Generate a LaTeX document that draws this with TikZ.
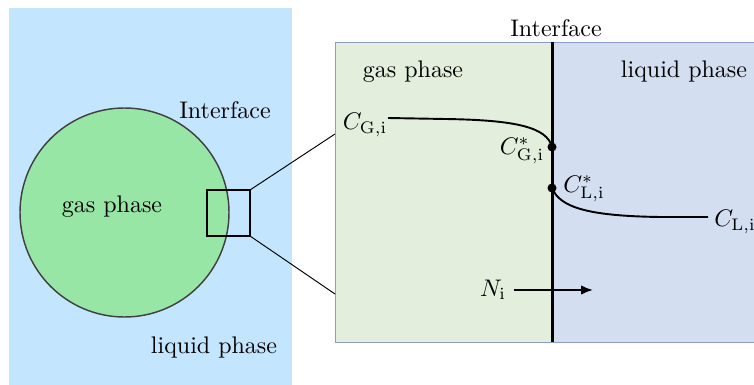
\documentclass[tikz,border=0pt]{standalone}
\usetikzlibrary{arrows.meta}
\definecolor{bubblebg}{RGB}{195,229,253}
\definecolor{bubblefill}{RGB}{152,230,166}
\definecolor{gasbg}{RGB}{227,239,220}
\definecolor{liqbg}{RGB}{211,222,240}
\definecolor{panelline}{RGB}{142,156,200}
\begin{document}
\begin{tikzpicture}[x=0.4167pt,y=-0.4167pt]
\useasboundingbox (0,0) rectangle (754,385);
% bubble in the liquid
\path[fill=bubblebg] (9,8) rectangle (292,385);
\path[fill=bubblefill,draw=black!75,line width=.6pt] (124.5,212.5) circle[radius=104.5];
\node (bubblegas) at (112,207) {gas phase};
\node (bubbleiface) at (225,110) {Interface};
\node (bubbleliq) at (214,347) {liquid phase};
\coordinate (zoomnw) at (207,190);
\coordinate (zoomne) at (250,190);
\coordinate (zoomse) at (250,236);
\draw[line width=.8pt] (zoomnw) rectangle (zoomse);
% zoomed interface
\path[fill=gasbg] (335,42) rectangle (552,342);
\path[fill=liqbg] (552,42) rectangle (780,342);
\draw[panelline,line width=.4pt] (335,42) rectangle (780,342);
\coordinate (panelup) at (335,134);
\coordinate (paneldn) at (335,294);
\draw[line width=.4pt] (zoomne) -- (panelup);
\draw[line width=.4pt] (zoomse) -- (paneldn);
\coordinate (ifacetop) at (552,42);
\coordinate (ifacebot) at (552,342);
\draw[line width=1.25pt] (ifacetop) -- (ifacebot);
\node (ifacelbl) at (556,28) {Interface};
\node (panelgas) at (413,72) {gas phase};
\node (panelliq) at (684,72) {liquid phase};
% concentration profile
\coordinate (cgistart) at (388,118);
\coordinate (cgstar) at (552,147);
\coordinate (clstar) at (552,188);
\coordinate (cliend) at (708,217);
\node (cgi) at (365,125) {$C_{\mathrm{G,i}}$};
\node (cgilbl) at (522,151) {$C^{*}_{\mathrm{G,i}}$};
\node (clilbl) at (584,189) {$C^{*}_{\mathrm{L,i}}$};
\node (cli) at (735,222) {$C_{\mathrm{L,i}}$};
\draw[line width=.8pt] (cgistart) -- (445,119) .. controls (515,120) and (547,127) .. (cgstar);
\draw[line width=.8pt] (clstar) .. controls (560,208) and (590,216) .. (660,217) -- (cliend);
\fill (cgstar) circle[radius=4.5];
\fill (clstar) circle[radius=4.5];
% flux
\node (ni) at (493,290) {$N_{\mathrm{i}}$};
\coordinate (niend) at (593,290);
\draw[line width=.8pt,-{Latex[length=5pt,width=4pt]}] (ni.east) -- (niend);
\end{tikzpicture}
\end{document}
